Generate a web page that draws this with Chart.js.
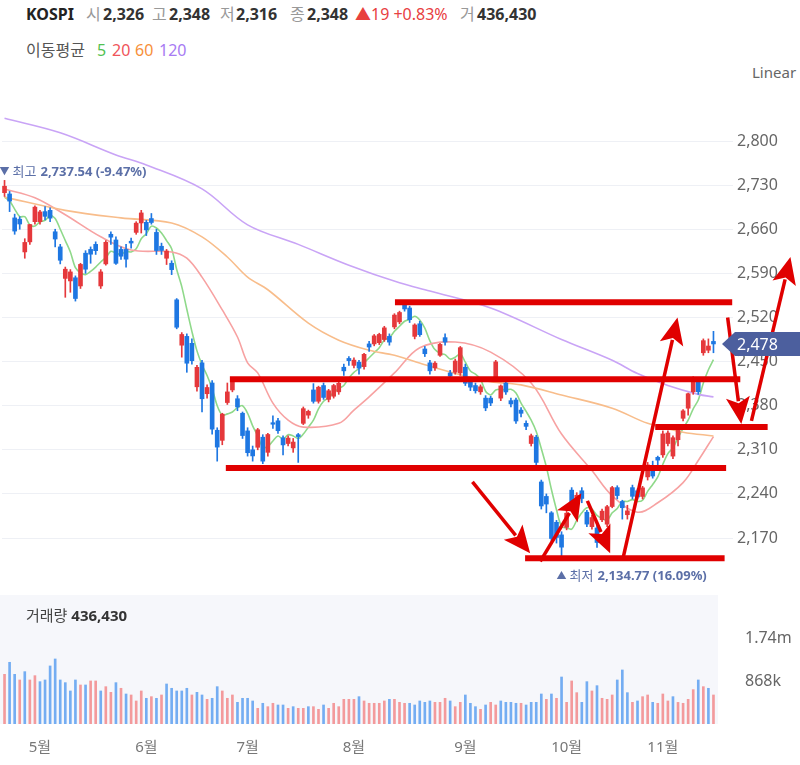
<!DOCTYPE html>
<html lang="ko">
<head>
<meta charset="utf-8">
<title>KOSPI</title>
<script src="https://cdn.jsdelivr.net/npm/chart.js@4.4.1/dist/chart.umd.min.js"></script>
<style>
  body { margin: 0; background: #fff; font-family: "Noto Sans", "Noto Sans CJK KR", sans-serif; }
  #wrap { position: relative; width: 800px; height: 765px; overflow: hidden; }
  .t { position: absolute; white-space: nowrap; line-height: 20px; font-size: 16px; }
  .g { color: #999; }
  .v { color: #333; font-weight: bold; }
  canvas { position: absolute; left: 0; }
</style>
</head>
<body>
<div id="wrap">
  <canvas id="priceChart" width="800" height="495" style="top:95px"></canvas>
  <canvas id="volumeChart" width="800" height="175" style="top:590px"></canvas>

  <span class="t v" style="left:26px;top:4px;color:#222">KOSPI</span>
  <span class="t g" style="left:86px;top:4px">시</span><span class="t v" style="left:103px;top:4px">2,326</span>
  <span class="t g" style="left:152px;top:4px">고</span><span class="t v" style="left:169px;top:4px">2,348</span>
  <span class="t g" style="left:220px;top:4px">저</span><span class="t v" style="left:236px;top:4px">2,316</span>
  <span class="t g" style="left:290px;top:4px">종</span><span class="t v" style="left:307px;top:4px">2,348</span>
  <span class="t" style="left:355px;top:4px;color:#e8403f">▲19 +0.83%</span>
  <span class="t g" style="left:460px;top:4px">거</span><span class="t v" style="left:477px;top:4px">436,430</span>

  <span class="t" style="left:26px;top:40px;color:#555">이동평균</span>
  <span class="t" style="left:97px;top:40px;color:#52c152">5</span>
  <span class="t" style="left:112px;top:40px;color:#f0545a">20</span>
  <span class="t" style="left:135px;top:40px;color:#f7903a">60</span>
  <span class="t" style="left:159px;top:40px;color:#a77bf3">120</span>

  <span class="t" style="left:752px;top:62px;color:#666;font-size:15px">Linear</span>
  <span class="t" style="left:26px;top:605px;color:#444;font-size:15px">거래량 <b style="color:#333">436,430</b></span>
</div>

<script>
// trading days, 2022-04-21 .. 2022-11-15
const dates = [
  '04-21','04-22','04-25','04-26','04-27','04-28','04-29',
  '05-02','05-03','05-04','05-06','05-09','05-10','05-11','05-12','05-13','05-16','05-17','05-18','05-19','05-20','05-23','05-24','05-25','05-26','05-27','05-30','05-31',
  '06-02','06-03','06-07','06-08','06-09','06-10','06-13','06-14','06-15','06-16','06-17','06-20','06-21','06-22','06-23','06-24','06-27','06-28','06-29','06-30',
  '07-01','07-04','07-05','07-06','07-07','07-08','07-11','07-12','07-13','07-14','07-15','07-18','07-19','07-20','07-21','07-22','07-25','07-26','07-27','07-28','07-29',
  '08-01','08-02','08-03','08-04','08-05','08-08','08-09','08-10','08-11','08-12','08-16','08-17','08-18','08-19','08-22','08-23','08-24','08-25','08-26','08-29','08-30','08-31',
  '09-01','09-02','09-05','09-06','09-07','09-08','09-13','09-14','09-15','09-16','09-19','09-20','09-21','09-22','09-23','09-26','09-27','09-28','09-29','09-30',
  '10-04','10-05','10-06','10-07','10-11','10-12','10-13','10-14','10-17','10-18','10-19','10-20','10-21','10-24','10-25','10-26','10-27','10-28','10-31',
  '11-01','11-02','11-03','11-04','11-07','11-08','11-09','11-10','11-11','11-14','11-15'
];

const opens = [
  2718,2716,2678,2676,2624,2640,2672,2672,2688,2690,
  2656,2632,2582,2578,2583,2570,2622,2628,2636,2570,
  2605,2652,2643,2628,2628,2641,2655,2670,2671,2677,
  2655,2633,2614,2606,2548,2476,2490,2479,2410,2448,
  2399,2416,2341,2325,2385,2405,2391,2368,2340,2310,
  2314,2330,2306,2353,2356,2329,2320,2313,2334,2352,
  2365,2405,2387,2412,2390,2395,2402,2441,2455,2444,
  2449,2442,2478,2478,2480,2485,2490,2505,2513,2541,
  2535,2490,2510,2470,2448,2440,2460,2488,2432,2433,
  2432,2441,2420,2412,2402,2392,2392,2425,2392,2416,
  2388,2389,2373,2352,2320,2330,2259,2236,2210,2195,
  2175,2187,2246,2222,2245,2211,2188,2186,2199,2192,
  2220,2250,2228,2207,2250,2245,2236,2267,2282,2298,
  2302,2320,2300,2326,2360,2376,2402,2418,2464,2468,
  2482
];
const highs = [
  2737.54,2720,2684,2680,2645,2668,2697,2690,2696,2694,
  2660,2636,2600,2596,2586,2606,2626,2632,2640,2596,
  2642,2656,2648,2632,2636,2646,2672,2690,2674,2685,
  2660,2638,2628,2610,2550,2496,2494,2486,2444,2452,
  2413,2420,2345,2368,2416,2425,2396,2370,2345,2316,
  2344,2334,2336,2364,2360,2332,2332,2328,2336,2378,
  2373,2415,2411,2416,2406,2414,2418,2446,2458,2456,
  2452,2463,2482,2493,2495,2506,2494,2526,2530,2546,
  2538,2510,2514,2474,2452,2450,2479,2494,2436,2454,
  2474,2446,2424,2416,2413,2396,2395,2452,2413,2420,
  2392,2392,2377,2356,2335,2333,2262,2240,2212,2198,
  2180,2215,2250,2242,2250,2214,2206,2190,2216,2222,
  2252,2253,2230,2222,2254,2248,2252,2290,2292,2300,
  2340,2340,2332,2348,2374,2400,2426,2424,2486,2486,
  2498
];
const lows = [
  2712,2688,2652,2660,2614,2636,2668,2668,2675,2672,
  2632,2605,2552,2560,2546,2566,2590,2606,2620,2566,
  2603,2636,2604,2612,2600,2630,2652,2654,2650,2668,
  2620,2620,2604,2588,2502,2457,2433,2446,2403,2370,
  2392,2335,2292,2318,2382,2402,2372,2328,2300,2292,
  2310,2288,2300,2344,2336,2302,2316,2306,2290,2350,
  2360,2384,2384,2390,2386,2392,2398,2428,2444,2440,
  2430,2438,2466,2475,2477,2482,2476,2502,2510,2530,
  2512,2486,2490,2458,2430,2436,2458,2476,2420,2430,
  2428,2412,2404,2400,2398,2372,2380,2422,2388,2398,
  2378,2352,2362,2342,2316,2286,2216,2210,2165,2162,
  2134.77,2183,2212,2218,2226,2188,2184,2155,2196,2188,
  2218,2232,2200,2200,2232,2232,2232,2262,2265,2286,
  2298,2316,2296,2316,2356,2365,2398,2398,2460,2464,
  2464
];
const closes = [
  2728.2,2704.7,2657.1,2668.3,2639.1,2667.5,2695.1,2687.5,2680.5,2677.6,
  2644.5,2610.8,2596.6,2592.3,2550.1,2604.2,2596.6,2620.4,2626.0,2592.3,
  2639.3,2647.4,2605.9,2617.2,2612.5,2638.1,2669.7,2685.9,2659.0,2670.7,
  2626.2,2626.3,2625.4,2595.9,2504.5,2493.0,2447.4,2451.4,2440.9,2391.0,
  2408.9,2342.8,2314.3,2366.6,2401.9,2422.1,2378.0,2332.6,2305.4,2300.3,
  2341.8,2292.0,2334.3,2350.6,2340.3,2317.8,2328.6,2322.3,2331.0,2375.3,
  2371.0,2386.9,2409.3,2393.1,2403.7,2412.0,2415.5,2435.3,2451.5,2452.3,
  2439.6,2461.5,2473.1,2490.8,2493.1,2503.5,2480.9,2523.8,2527.9,2533.5,
  2516.5,2508.1,2492.7,2462.5,2435.3,2447.5,2477.3,2481.0,2426.9,2450.9,
  2472.1,2415.6,2409.4,2403.7,2410.0,2376.5,2384.3,2449.5,2411.4,2401.8,
  2382.8,2355.7,2367.9,2347.2,2332.3,2290.0,2220.9,2223.9,2169.3,2170.9,
  2155.5,2209.4,2215.2,2237.9,2232.8,2192.1,2202.5,2162.9,2212.6,2219.7,
  2250.0,2237.4,2218.1,2213.1,2236.2,2235.1,2249.6,2286.0,2268.4,2293.6,
  2335.2,2336.6,2329.2,2348.0,2371.8,2399.0,2424.4,2402.2,2483.2,2474.7,
  2478.0
];
const closeBefore = 2718.7; // close of the day before the first candle

// volume, thousands
const volumes = [
  1003,1246,1003,889,1057,889,976,855,889,1172,
  1313,889,835,667,889,788,788,869,869,667,
  754,640,835,721,606,586,465,667,519,552,
  519,586,808,721,667,667,721,586,640,586,
  498,519,754,667,519,586,438,519,519,465,
  317,418,350,418,384,384,317,350,317,317,
  350,350,296,384,317,418,350,498,498,498,
  552,465,418,418,418,465,498,498,438,418,
  418,384,465,438,465,438,438,519,465,350,
  438,586,418,350,296,384,438,384,465,438,
  438,418,418,384,438,438,606,498,606,519,
  949,438,869,633,438,855,667,774,519,498,
  586,889,1091,633,438,465,552,586,438,418,
  606,465,552,436.43,418,498,694,889,754,721,
  586
];

// moving averages
const ma5 = [
  2711,2705,2692,2680,2680,2667,2665,2672,2674,2682,
  2677,2660,2642,2624,2599,2591,2588,2593,2600,2608,
  2615,2625,2622,2620,2625,2624,2629,2645,2653,2665,
  2662,2654,2642,2629,2596,2569,2533,2498,2467,2445,
  2428,2407,2380,2365,2367,2370,2377,2380,2368,2348,
  2332,2314,2315,2324,2332,2327,2334,2332,2328,2335,
  2346,2357,2375,2387,2393,2401,2407,2412,2424,2433,
  2439,2448,2456,2464,2472,2484,2488,2498,2506,2514,
  2517,2522,2516,2503,2483,2469,2463,2461,2454,2457,
  2462,2449,2435,2430,2422,2403,2397,2405,2406,2405,
  2406,2400,2384,2371,2357,2339,2312,2283,2247,2215,
  2188,2186,2184,2198,2210,2218,2216,2206,2201,2198,
  2210,2217,2228,2228,2231,2228,2230,2244,2255,2267,
  2287,2304,2313,2329,2344,2357,2375,2389,2416,2437,
  2453
];
const ma20 = [
  ['04-21',2724],['04-29',2710],['05-10',2683],['05-19',2648],['05-27',2627],['06-10',2624],
  ['06-15',2614],['06-20',2584],['06-24',2532],['06-29',2489],['07-01',2448],['07-05',2432],
  ['07-08',2384],['07-13',2357],['07-18',2346],['07-27',2352],['08-01',2373],['08-04',2394],
  ['08-11',2432],['08-19',2472],['08-30',2481],['09-08',2465],['09-22',2416],['09-30',2335],
  ['10-12',2277],['10-18',2237],['10-25',2211],['10-31',2226],['11-07',2258],['11-10',2293],
  ['11-15',2331]
];
const ma60 = [
  ['04-21',2711],['05-10',2690],['05-25',2678],['06-10',2670],['06-20',2648],['06-27',2616],
  ['07-01',2584],['07-07',2564],['07-19',2511],['07-27',2484],['08-04',2468],['08-11',2460],
  ['08-22',2445],['08-31',2429],['09-08',2418],['09-20',2413],['09-30',2397],['10-18',2376],
  ['10-27',2352],['11-07',2338],['11-15',2332]
];
const ma120 = [
  ['04-21',2836],['05-09',2813],['05-24',2778],['06-02',2762],['06-20',2724],['07-01',2667],
  ['07-15',2636],['07-29',2603],['08-12',2575],['08-23',2562],['09-08',2535],['09-30',2485],
  ['10-18',2452],['10-25',2431],['11-02',2412],['11-10',2398],['11-15',2394]
];

const priceTicks = [2170, 2240, 2310, 2380, 2450, 2520, 2590, 2660, 2730, 2800];
const volumeTicks = [868, 1736];

// red hand-drawn marks: levels [from index, to index, price], arrows [index, price -> index, price]
const redLevels = [[77.1, 143.7, 2544], [44.5, 145.3, 2422], [128.5, 150.7, 2346], [43.7, 142.5, 2281], [102.8, 142.2, 2138]];
const redArrows = [
  [92.4, 2259, 103.8, 2146], [105.8, 2133, 113.9, 2241], [115.1, 2229, 119.6, 2146],
  [122.2, 2140, 132.9, 2520], [142.8, 2520, 145.5, 2351], [147.5, 2356, 155.2, 2616]
];

const FONT = '"Noto Sans", "Noto Sans CJK KR", sans-serif';
const RED = '#e5383b', BLUE = '#1e77e2';
const VOL_RED = '#f39a9c', VOL_BLUE = '#74adf2';
const MARK = '#e00000';

const candleColors = closes.map((c, i) => (c >= opens[i] ? RED : BLUE));
const volumeColors = closes.map((c, i) => (c >= (i ? closes[i - 1] : closeBefore) ? VOL_RED : VOL_BLUE));
const pts = (list) => list.map(([d, v]) => ({ x: d, y: v }));

function arrow(ctx, x1, y1, x2, y2) {
  const a = Math.atan2(y2 - y1, x2 - x1);
  const len = 27, half = 12;
  const bx = x2 - len * Math.cos(a), by = y2 - len * Math.sin(a);
  ctx.lineWidth = 3.5;
  ctx.beginPath();
  ctx.moveTo(x1, y1);
  ctx.lineTo(bx + 4 * Math.cos(a), by + 4 * Math.sin(a));
  ctx.stroke();
  ctx.beginPath();
  ctx.moveTo(x2, y2);
  ctx.lineTo(bx + half * Math.sin(a), by - half * Math.cos(a));
  ctx.lineTo(bx + 6 * Math.cos(a), by + 6 * Math.sin(a));
  ctx.lineTo(bx - half * Math.sin(a), by + half * Math.cos(a));
  ctx.closePath();
  ctx.fill();
}

function extremeLabel(ctx, x, y, mark, word, value) {
  ctx.fillStyle = '#5b6fa7';
  ctx.textBaseline = 'middle';
  ctx.textAlign = 'center';
  ctx.font = '10px ' + FONT;
  ctx.fillText(mark, x, y);
  ctx.textAlign = 'left';
  ctx.font = '13px ' + FONT;
  ctx.fillText(word, x + 8, y);
  const w = ctx.measureText(word).width;
  ctx.font = 'bold 13px ' + FONT;
  ctx.fillText(value, x + 12 + w, y);
}

const overlay = {
  id: 'overlay',
  afterDatasetsDraw(chart) {
    const { ctx, chartArea: area, scales: { x, y } } = chart;
    ctx.save();

    // highest / lowest
    const iMax = highs.indexOf(Math.max(...highs));
    const iMin = lows.indexOf(Math.min(...lows));
    extremeLabel(ctx, x.getPixelForValue(iMax), y.getPixelForValue(highs[iMax]) - 8, '▼', '최고', '2,737.54 (-9.47%)');
    extremeLabel(ctx, x.getPixelForValue(iMin), y.getPixelForValue(lows[iMin]) + 16, '▲', '최저', '2,134.77 (16.09%)');

    // red marks
    ctx.strokeStyle = MARK;
    ctx.fillStyle = MARK;
    ctx.lineWidth = 6;
    redLevels.forEach(([i1, i2, p]) => {
      const py = y.getPixelForValue(p);
      ctx.beginPath();
      ctx.moveTo(x.getPixelForValue(i1), py);
      ctx.lineTo(x.getPixelForValue(i2), py);
      ctx.stroke();
    });
    redArrows.forEach(([i1, p1, i2, p2]) => {
      arrow(ctx, x.getPixelForValue(i1), y.getPixelForValue(p1), x.getPixelForValue(i2), y.getPixelForValue(p2));
    });

    // last price tag
    const last = closes[closes.length - 1];
    const ly = Math.round(y.getPixelForValue(last));
    ctx.fillStyle = '#4c5f9e';
    ctx.beginPath();
    ctx.moveTo(area.right + 6, ly);
    ctx.lineTo(area.right + 19, ly - 12);
    ctx.lineTo(chart.width, ly - 12);
    ctx.lineTo(chart.width, ly + 12);
    ctx.lineTo(area.right + 19, ly + 12);
    ctx.closePath();
    ctx.fill();
    ctx.fillStyle = '#fff';
    ctx.font = '16px ' + FONT;
    ctx.textAlign = 'left';
    ctx.textBaseline = 'middle';
    ctx.fillText(Math.round(last).toLocaleString('en-US'), area.right + 21, ly + 1);
    ctx.restore();
  }
};

const volumeBackground = {
  id: 'volumeBackground',
  beforeDraw(chart) {
    const { ctx, chartArea: a } = chart;
    ctx.save();
    ctx.fillStyle = '#f6f7fb';
    ctx.fillRect(0, a.top - 3, a.right + 2, a.bottom - a.top + 3);
    ctx.restore();
  }
};

const lineStyle = (color) => ({ type: 'line', borderColor: color, borderWidth: 1.6, pointRadius: 0, tension: 0.35, order: 5 });

// PRICE (candles + moving averages)
new Chart(document.getElementById('priceChart'), {
  type: 'bar',
  data: {
    labels: dates,
    datasets: [
      { ...lineStyle('#c9a4f6'), label: 'MA120', data: pts(ma120) },
      { ...lineStyle('#f8bd8b'), label: 'MA60', data: pts(ma60) },
      { ...lineStyle('#f7a2a2'), label: 'MA20', data: pts(ma20) },
      { ...lineStyle('#8fd98a'), label: 'MA5', data: ma5, tension: 0.3 },
      {
        label: 'wick',
        data: lows.map((l, i) => [l, highs[i]]),
        backgroundColor: candleColors,
        barThickness: 1,
        grouped: false,
        order: 2
      },
      {
        label: 'body',
        data: opens.map((o, i) => [o, closes[i]]),
        backgroundColor: candleColors,
        barThickness: 4,
        minBarLength: 1,
        grouped: false,
        order: 1
      }
    ]
  },
  options: {
    responsive: false,
    animation: false,
    layout: { padding: { left: 2, top: 5, right: 0, bottom: 10 } },
    plugins: { legend: { display: false }, tooltip: { enabled: false } },
    scales: {
      x: { display: false },
      y: {
        position: 'right',
        min: 2103.4,
        max: 2865.1,
        afterBuildTicks: (s) => { s.ticks = priceTicks.map((v) => ({ value: v })); },
        afterFit: (s) => { s.width = 84; s.paddingTop = 0; s.paddingBottom = 0; },
        grid: { color: '#eef0f5', tickColor: '#eef0f5', tickLength: 17 },
        border: { display: false },
        ticks: {
          color: '#666',
          padding: 4,
          font: { size: 16, family: FONT },
          callback: (v) => v.toLocaleString('en-US')
        }
      }
    }
  },
  plugins: [overlay]
});

// VOLUME
new Chart(document.getElementById('volumeChart'), {
  type: 'bar',
  data: {
    labels: dates,
    datasets: [{ label: 'Volume', data: volumes, backgroundColor: volumeColors, barThickness: 2 }]
  },
  options: {
    responsive: false,
    animation: false,
    layout: { padding: { left: 2, top: 8, right: 0, bottom: 0 } },
    plugins: { legend: { display: false }, tooltip: { enabled: false } },
    scales: {
      x: {
        grid: { display: false },
        border: { display: false },
        afterFit: (s) => { s.height = 41; s.paddingLeft = 0; s.paddingRight = 0; },
        ticks: {
          autoSkip: false,
          maxRotation: 0,
          padding: 7,
          color: '#777',
          font: { size: 15, family: FONT },
          callback: (v, i) => {
            const m = dates[i].slice(0, 2);
            if (i === 0 || m === dates[i - 1].slice(0, 2)) return '';
            return parseInt(m, 10) + '월';
          }
        }
      },
      y: {
        position: 'right',
        min: 0,
        max: 2544,
        afterBuildTicks: (s) => { s.ticks = volumeTicks.map((v) => ({ value: v })); },
        afterFit: (s) => { s.width = 84; s.paddingTop = 0; s.paddingBottom = 0; },
        grid: { display: false },
        border: { display: false },
        ticks: {
          color: '#666',
          padding: 21,
          font: { size: 16, family: FONT },
          callback: (v) => (v >= 1000 ? (v / 1000).toFixed(2) + 'm' : v + 'k')
        }
      }
    }
  },
  plugins: [volumeBackground]
});
</script>
</body>
</html>
